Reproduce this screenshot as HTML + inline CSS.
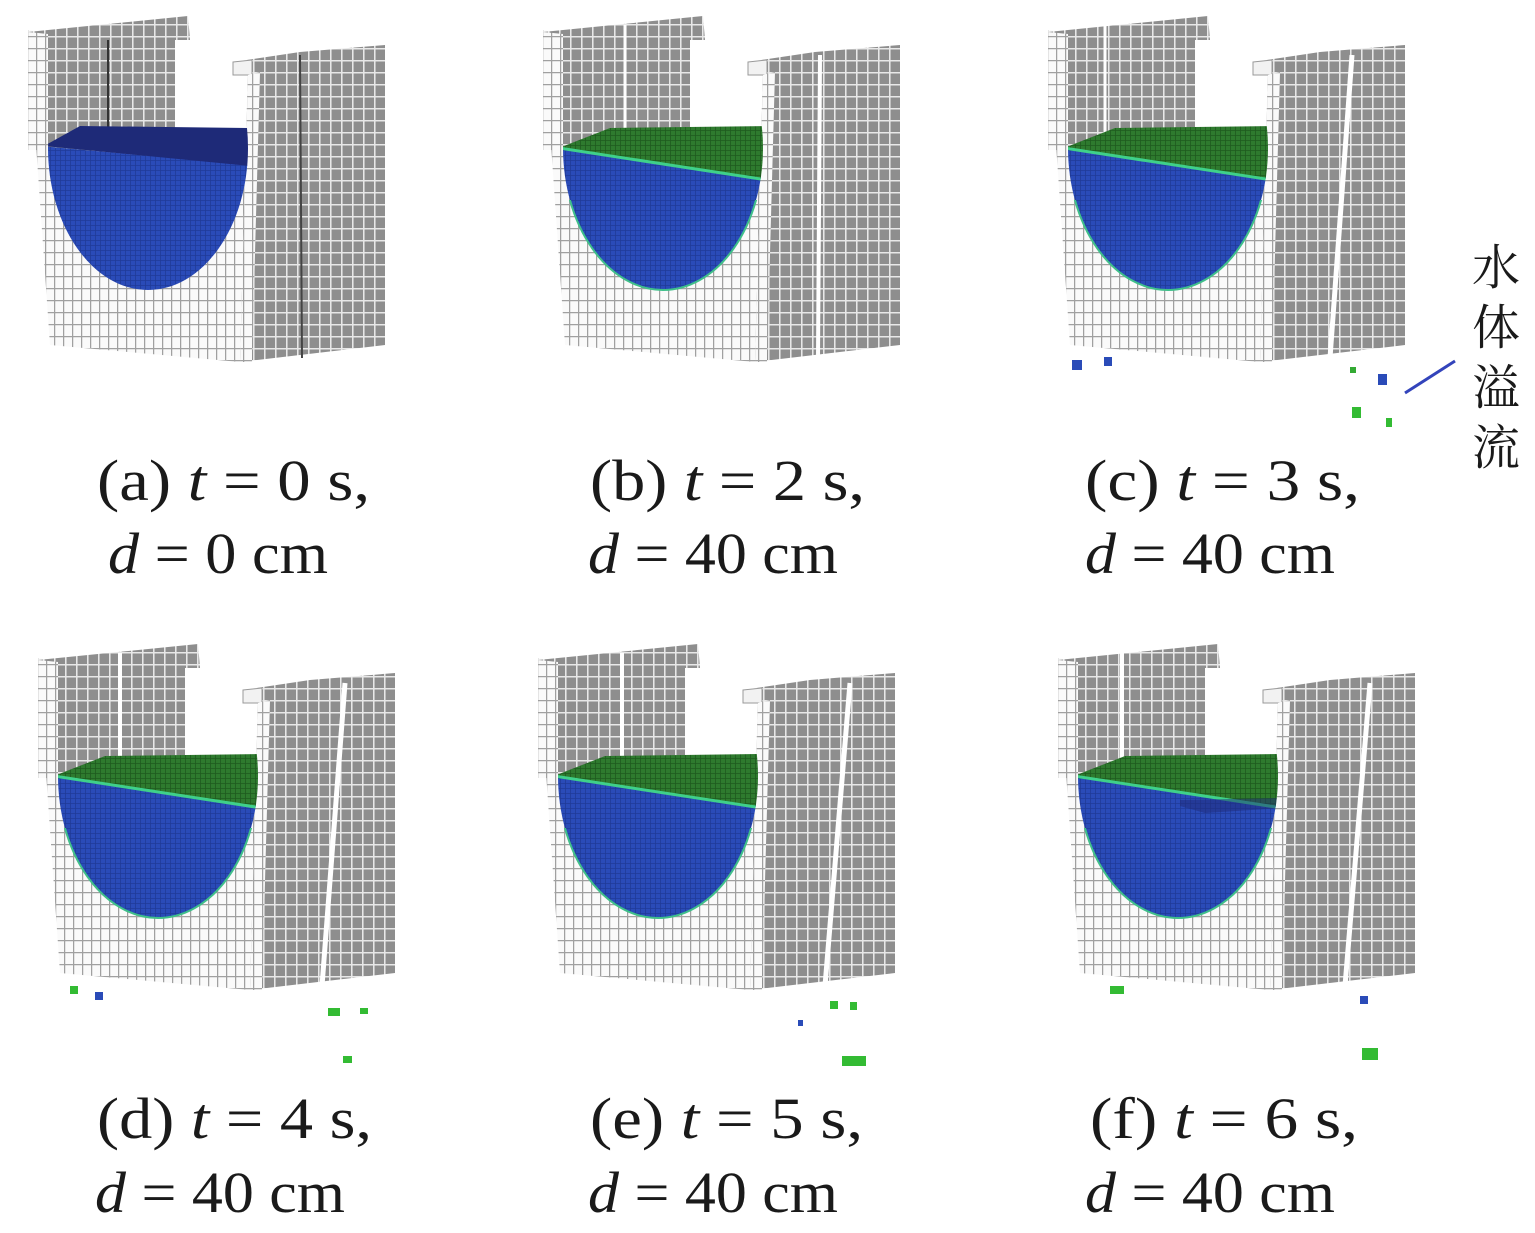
<!DOCTYPE html>
<html><head><meta charset="utf-8"><style>
html,body{margin:0;padding:0;background:#fff}
svg{display:block}
text{font-family:"Liberation Serif","Noto Serif CJK SC",serif;fill:#1a1a1a}
</style></head><body>
<svg width="1535" height="1233" viewBox="0 0 1535 1233" xmlns="http://www.w3.org/2000/svg">
<defs>
<pattern id="gg" width="11" height="12" patternUnits="userSpaceOnUse">
<rect width="11" height="12" fill="#8e8e8e"/><path d="M0 0.75H11M0.75 0V12" stroke="#e8e8e8" stroke-width="1.6"/>
</pattern>
<pattern id="wg" width="9" height="12" patternUnits="userSpaceOnUse">
<rect width="9" height="12" fill="#fafafa"/><path d="M0 0.6H9M0.6 0V12" stroke="#a0a0a0" stroke-width="1.3"/>
</pattern>
<pattern id="bg" width="5" height="5" patternUnits="userSpaceOnUse">
<rect width="5" height="5" fill="#2a4bb8"/><path d="M0 0.5H5M0.5 0V5" stroke="#1f3a98" stroke-width="0.8"/>
</pattern>
<pattern id="gr" width="5" height="5" patternUnits="userSpaceOnUse">
<rect width="5" height="5" fill="#2e7a2e"/><path d="M0 0.5H5M0.5 0V5" stroke="#1e5a1e" stroke-width="0.8"/>
</pattern>
<clipPath id="cav"><ellipse cx="148" cy="148" rx="100" ry="142"/></clipPath>
<clipPath id="lowhalf"><rect x="40" y="200" width="220" height="100"/></clipPath>
<g id="struct">
  <polygon points="28,30 48,34 48,150 248,150 248,62 240,362 50,345" fill="url(#wg)"/>
  <polygon points="28,32 188,16 190,40 175,40 175,150 48,150 48,44 28,44" fill="url(#gg)"/>
  <polygon points="28,32 48,34 48,150 28,150" fill="url(#wg)"/>
  <polygon points="233,62 300,52 385,45 385,345 240,362 248,75 233,75" fill="url(#gg)"/>
  <polygon points="233,62 252,60 252,75 233,75" fill="#f2f2f2" stroke="#999" stroke-width="1"/>
  <polygon points="248,75 260,72 252,362 240,362" fill="url(#wg)"/>
</g>
<g id="waterG">
  <g clip-path="url(#cav)">
    <polygon points="40,146 262,178 262,300 40,300" fill="url(#bg)"/>
    <polygon points="44,148 95,128 252,126 252,180" fill="url(#gr)"/>
    <path d="M44,148 L252,180" stroke="#3fd08a" stroke-width="3" fill="none"/>
  </g>
  <ellipse cx="148" cy="148" rx="100" ry="142" fill="none" stroke="#3fbf8a" stroke-width="2" clip-path="url(#lowhalf)"/>
</g>
</defs>

<g transform="translate(0,0)">
  <use href="#struct"/>
  <line x1="300" y1="55" x2="302" y2="358" stroke="#444" stroke-width="2"/>
  <line x1="108" y1="40" x2="108" y2="140" stroke="#333" stroke-width="2"/>
  <g clip-path="url(#cav)">
    <polygon points="40,146 262,166 262,300 40,300" fill="url(#bg)"/>
    <polygon points="44,146 80,126 250,128 250,166" fill="#1e2a78"/>
  </g>
</g>
<g transform="translate(515,0)">
  <use href="#struct"/>
  <line x1="305" y1="55" x2="303" y2="358" stroke="#fff" stroke-width="4"/>
  <line x1="110" y1="25" x2="110" y2="140" stroke="#fff" stroke-width="3"/>
  <use href="#waterG"/>
</g>
<g transform="translate(1020,0)">
  <use href="#struct"/>
  <line x1="332" y1="55" x2="310" y2="358" stroke="#fff" stroke-width="5"/>
  <line x1="85" y1="25" x2="85" y2="140" stroke="#fff" stroke-width="3"/>
  <use href="#waterG"/>
  <rect x="52" y="360" width="10" height="10" fill="#2a4bb8"/><rect x="84" y="357" width="8" height="9" fill="#2a4bb8"/>
  <rect x="330" y="367" width="6" height="6" fill="#3a3"/><rect x="358" y="374" width="9" height="11" fill="#2a4bb8"/>
  <rect x="332" y="407" width="9" height="11" fill="#3b3"/><rect x="366" y="418" width="6" height="9" fill="#3b3"/>
</g>
<g transform="translate(10,628)">
  <use href="#struct"/>
  <line x1="335" y1="55" x2="312" y2="358" stroke="#fff" stroke-width="5"/>
  <line x1="110" y1="25" x2="110" y2="140" stroke="#fff" stroke-width="4"/>
  <use href="#waterG"/>
  <rect x="60" y="358" width="8" height="8" fill="#3b3"/><rect x="85" y="364" width="8" height="8" fill="#2a4bb8"/>
  <rect x="318" y="380" width="12" height="8" fill="#3b3"/><rect x="350" y="380" width="8" height="6" fill="#3b3"/>
  <rect x="333" y="428" width="9" height="7" fill="#3b3"/>
</g>
<g transform="translate(510,628)">
  <use href="#struct"/>
  <line x1="340" y1="55" x2="315" y2="358" stroke="#fff" stroke-width="5"/>
  <line x1="112" y1="25" x2="112" y2="140" stroke="#fff" stroke-width="4"/>
  <use href="#waterG"/>
  <rect x="320" y="373" width="8" height="8" fill="#3b3"/><rect x="340" y="374" width="7" height="8" fill="#3b3"/>
  <rect x="288" y="392" width="5" height="6" fill="#2a4bb8"/><rect x="332" y="428" width="24" height="10" fill="#3b3"/>
</g>
<g transform="translate(1030,628)">
  <use href="#struct"/>
  <line x1="340" y1="55" x2="315" y2="358" stroke="#fff" stroke-width="5"/>
  <line x1="92" y1="25" x2="92" y2="140" stroke="#fff" stroke-width="4"/>
  <use href="#waterG"/>
  <polygon points="150,178 175,185 252,180 252,170 150,172" fill="#1e2a78" clip-path="url(#cav)" opacity="0.5"/>
  <rect x="80" y="358" width="14" height="8" fill="#3b3"/><rect x="330" y="368" width="8" height="8" fill="#2a4bb8"/>
  <rect x="332" y="420" width="16" height="12" fill="#3b3"/>
</g>

<g font-size="58">
<text x="97" y="500" textLength="273" lengthAdjust="spacingAndGlyphs">(a) <tspan font-style="italic">t</tspan> = 0 s,</text>
<text x="108" y="573" textLength="220" lengthAdjust="spacingAndGlyphs"><tspan font-style="italic">d</tspan> = 0 cm</text>
<text x="590" y="500" textLength="275" lengthAdjust="spacingAndGlyphs">(b) <tspan font-style="italic">t</tspan> = 2 s,</text>
<text x="588" y="573" textLength="250" lengthAdjust="spacingAndGlyphs"><tspan font-style="italic">d</tspan> = 40 cm</text>
<text x="1085" y="500" textLength="275" lengthAdjust="spacingAndGlyphs">(c) <tspan font-style="italic">t</tspan> = 3 s,</text>
<text x="1085" y="573" textLength="250" lengthAdjust="spacingAndGlyphs"><tspan font-style="italic">d</tspan> = 40 cm</text>
<text x="97" y="1138" textLength="275" lengthAdjust="spacingAndGlyphs">(d) <tspan font-style="italic">t</tspan> = 4 s,</text>
<text x="95" y="1212" textLength="250" lengthAdjust="spacingAndGlyphs"><tspan font-style="italic">d</tspan> = 40 cm</text>
<text x="590" y="1138" textLength="273" lengthAdjust="spacingAndGlyphs">(e) <tspan font-style="italic">t</tspan> = 5 s,</text>
<text x="588" y="1212" textLength="250" lengthAdjust="spacingAndGlyphs"><tspan font-style="italic">d</tspan> = 40 cm</text>
<text x="1090" y="1138" textLength="268" lengthAdjust="spacingAndGlyphs">(f) <tspan font-style="italic">t</tspan> = 6 s,</text>
<text x="1085" y="1212" textLength="250" lengthAdjust="spacingAndGlyphs"><tspan font-style="italic">d</tspan> = 40 cm</text>
</g>
<g font-size="48" style="font-family:'Noto Serif CJK SC','Noto Sans CJK SC',serif">
<text x="1472" y="284">水</text>
<text x="1472" y="344">体</text>
<text x="1472" y="404">溢</text>
<text x="1472" y="464">流</text>
</g>
<line x1="1405" y1="393" x2="1455" y2="361" stroke="#3344bb" stroke-width="3"/>
</svg>
</body></html>
